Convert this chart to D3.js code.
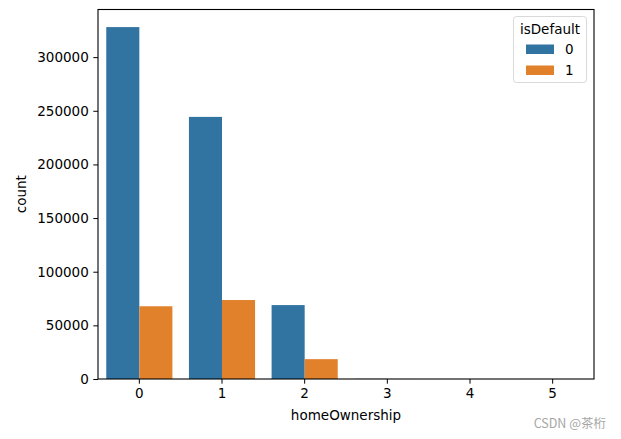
<!DOCTYPE html>
<html>
<head>
<meta charset="utf-8">
<script src="https://cdn.jsdelivr.net/npm/d3@7"></script>
<style>
  body { margin: 0; background: #fff; }
  text { font-family: "DejaVu Sans", sans-serif; }
</style>
</head>
<body>
<div id="chart"></div>
<script>
var categories = ["0", "1", "2", "3", "4", "5"];
var series = ["0", "1"];
var counts0 = [328000, 244300, 68900, 150, 28, 65];
var counts1 = [67800, 73600, 18500, 35, 5, 16];
var yTicks = [0, 50000, 100000, 150000, 200000, 250000, 300000];
var colors = ["#3274a1", "#e1812c"];

var W = 621, H = 439;
var margin = {left: 98, right: 27, top: 9.5, bottom: 60};

var svg = d3.select("#chart").append("svg")
    .attr("width", W)
    .attr("height", H);

var x = d3.scaleBand()
    .domain(categories)
    .range([margin.left, W - margin.right])
    .paddingInner(0.2)
    .paddingOuter(0.1);

var xSub = d3.scaleBand()
    .domain(series)
    .range([0, x.bandwidth()]);

var ymax = d3.max(counts0.concat(counts1)) * 1.05;
var y = d3.scaleLinear()
    .domain([0, ymax])
    .range([H - margin.bottom, margin.top]);

var data = [];
categories.forEach(function (c, i) {
    data.push({cat: c, s: "0", v: counts0[i]});
    data.push({cat: c, s: "1", v: counts1[i]});
});

svg.selectAll("rect.bar")
    .data(data)
    .enter()
    .append("rect")
    .attr("class", "bar")
    .attr("x", d => x(d.cat) + xSub(d.s))
    .attr("width", xSub.bandwidth())
    .attr("y", d => y(d.v))
    .attr("height", d => y(0) - y(d.v))
    .attr("fill", d => colors[+d.s]);

// x axis
var xAxis = svg.append("g")
    .attr("transform", "translate(0," + (H - margin.bottom) + ")")
    .call(d3.axisBottom(x).tickSize(4.7).tickPadding(4.5));
xAxis.select(".domain").remove();
xAxis.selectAll("text").attr("font-size", "13.5px").attr("fill", "#000")
    .style("font-family", "DejaVu Sans");

var yAxis = svg.append("g")
    .attr("transform", "translate(" + margin.left + ",0)")
    .call(d3.axisLeft(y).tickValues(yTicks).tickFormat(d3.format("d")).tickSize(4.7).tickPadding(4.5));
yAxis.select(".domain").remove();
yAxis.selectAll("text").attr("font-size", "13.5px").attr("fill", "#000")
    .style("font-family", "DejaVu Sans");

// frame
svg.append("rect")
    .attr("x", margin.left)
    .attr("y", margin.top)
    .attr("width", W - margin.right - margin.left)
    .attr("height", H - margin.bottom - margin.top)
    .attr("fill", "none")
    .attr("stroke", "#000")
    .attr("stroke-width", 1.1);

// axis labels
svg.append("text")
    .attr("x", (margin.left + W - margin.right) / 2)
    .attr("y", 420)
    .attr("text-anchor", "middle")
    .attr("font-size", "13.5px")
    .text("homeOwnership");

svg.append("text")
    .attr("transform", "translate(26," + ((margin.top + H - margin.bottom) / 2) + ") rotate(-90)")
    .attr("text-anchor", "middle")
    .attr("font-size", "13.5px")
    .text("count");

// legend
var lg = svg.append("g");
lg.append("rect")
    .attr("x", 513.5).attr("y", 16.5)
    .attr("width", 73).attr("height", 66)
    .attr("rx", 3)
    .attr("fill", "#fff").attr("fill-opacity", 0.8)
    .attr("stroke", "#d9d9d9");
lg.append("text")
    .attr("x", 550).attr("y", 34)
    .attr("text-anchor", "middle")
    .attr("font-size", "13.5px")
    .text("isDefault");
series.forEach(function (s, i) {
    lg.append("rect")
        .attr("x", 526).attr("y", 44.5 + i * 21)
        .attr("width", 28).attr("height", 9.5)
        .attr("fill", colors[i]);
    lg.append("text")
        .attr("x", 565).attr("y", 54 + i * 21)
        .attr("font-size", "13.5px")
        .text(s);
});

// watermark
svg.append("text")
    .attr("x", 606).attr("y", 428)
    .attr("text-anchor", "end")
    .attr("font-size", "12.5px")
    .attr("fill", "#a6a6a6")
    .style("font-family", "'Noto Sans CJK SC', sans-serif")
    .text("CSDN @茶桁");
</script>
</body>
</html>
